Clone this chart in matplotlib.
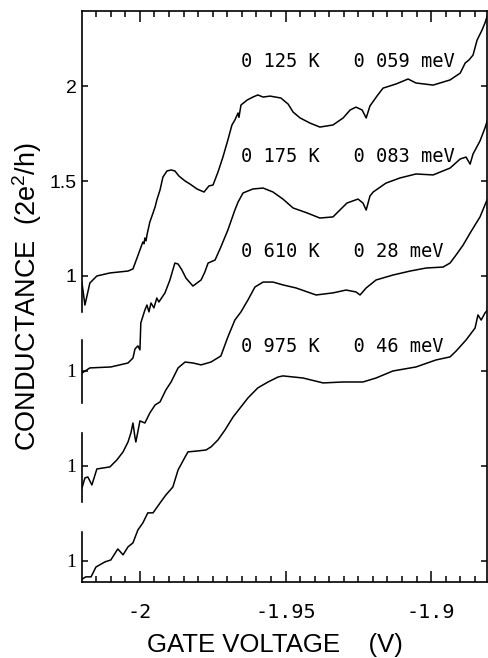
#!/usr/bin/env python3

import matplotlib
matplotlib.use("Agg")
import matplotlib.pyplot as plt
from matplotlib.ticker import MultipleLocator


# gate voltage (V) / conductance (2e^2/h) for each temperature
v_0125 = [-2.0199, -2.0189, -2.0172, -2.0148, -2.0103, -2.0041, -2.0024, -2.0010,
          -1.9990, -1.9986, -1.9983, -1.9979, -1.9976, -1.9966, -1.9955, -1.9948,
          -1.9942, -1.9931, -1.9921, -1.9907, -1.9893, -1.9880, -1.9866, -1.9845,
          -1.9828, -1.9804, -1.9780, -1.9763, -1.9749, -1.9732, -1.9715, -1.9698,
          -1.9684, -1.9674, -1.9663, -1.9660, -1.9653, -1.9632, -1.9612, -1.9595,
          -1.9577, -1.9553, -1.9516, -1.9491, -1.9474, -1.9450, -1.9416, -1.9382,
          -1.9337, -1.9302, -1.9278, -1.9258, -1.9237, -1.9223, -1.9210, -1.9186,
          -1.9165, -1.9120, -1.9079, -1.9052, -1.8993, -1.8935, -1.8900, -1.8883,
          -1.8870, -1.8856, -1.8842, -1.8825, -1.8815, -1.8804]
g_0125 = [0.963, 0.847, 0.963, 1.000, 1.016, 1.026, 1.037, 1.095,
          1.179, 1.170, 1.200, 1.185, 1.215, 1.284, 1.332, 1.363,
          1.400, 1.453, 1.521, 1.553, 1.558, 1.553, 1.526, 1.500,
          1.484, 1.458, 1.442, 1.474, 1.479, 1.547, 1.626, 1.716,
          1.795, 1.821, 1.858, 1.835, 1.900, 1.926, 1.942, 1.953,
          1.942, 1.947, 1.937, 1.905, 1.863, 1.832, 1.805, 1.784,
          1.795, 1.832, 1.874, 1.889, 1.874, 1.832, 1.895, 1.947,
          1.989, 2.011, 2.037, 2.016, 2.005, 2.032, 2.068, 2.121,
          2.137, 2.163, 2.242, 2.295, 2.332, 2.384]

v_0175 = [-2.0199, -2.0172, -2.0100, -2.0041, -2.0024, -2.0017, -2.0007, -2.0000,
          -1.9997, -1.9983, -1.9976, -1.9969, -1.9962, -1.9952, -1.9942, -1.9935,
          -1.9914, -1.9897, -1.9887, -1.9880, -1.9869, -1.9856, -1.9842, -1.9818,
          -1.9790, -1.9777, -1.9766, -1.9742, -1.9722, -1.9698, -1.9674, -1.9663,
          -1.9646, -1.9612, -1.9577, -1.9543, -1.9509, -1.9474, -1.9426, -1.9382,
          -1.9337, -1.9289, -1.9251, -1.9234, -1.9223, -1.9210, -1.9199, -1.9155,
          -1.9107, -1.9052, -1.8993, -1.8935, -1.8900, -1.8880, -1.8866, -1.8856,
          -1.8832, -1.8815, -1.8804]
g_0175 = [0.989, 1.016, 1.021, 1.042, 1.068, 1.116, 1.132, 1.111,
          1.253, 1.321, 1.347, 1.311, 1.358, 1.332, 1.384, 1.363,
          1.411, 1.479, 1.532, 1.568, 1.563, 1.532, 1.489, 1.447,
          1.479, 1.521, 1.568, 1.584, 1.653, 1.742, 1.847, 1.889,
          1.937, 1.958, 1.963, 1.942, 1.905, 1.858, 1.832, 1.805,
          1.811, 1.884, 1.905, 1.884, 1.847, 1.921, 1.942, 1.989,
          2.016, 2.037, 2.032, 2.068, 2.116, 2.126, 2.089, 2.142,
          2.211, 2.279, 2.332]

v_0610 = [-2.0199, -2.0189, -2.0179, -2.0165, -2.0148, -2.0103, -2.0079, -2.0058,
          -2.0041, -2.0031, -2.0024, -2.0017, -2.0014, -2.0000, -1.9983, -1.9966,
          -1.9948, -1.9931, -1.9911, -1.9893, -1.9869, -1.9845, -1.9818, -1.9790,
          -1.9756, -1.9722, -1.9698, -1.9674, -1.9653, -1.9629, -1.9605, -1.9577,
          -1.9543, -1.9509, -1.9464, -1.9395, -1.9337, -1.9292, -1.9258, -1.9244,
          -1.9223, -1.9189, -1.9131, -1.9072, -1.9017, -1.8959, -1.8935, -1.8914,
          -1.8890, -1.8866, -1.8832, -1.8808]
g_0610 = [0.884, 0.937, 0.942, 0.900, 0.984, 0.995, 1.032, 1.074,
          1.126, 1.174, 1.226, 1.150, 1.126, 1.237, 1.226, 1.279,
          1.321, 1.337, 1.400, 1.442, 1.516, 1.547, 1.542, 1.532,
          1.547, 1.579, 1.679, 1.768, 1.811, 1.874, 1.942, 1.968,
          1.968, 1.953, 1.937, 1.900, 1.911, 1.926, 1.916, 1.900,
          1.937, 1.979, 2.005, 2.026, 2.042, 2.047, 2.068, 2.111,
          2.163, 2.226, 2.311, 2.400]

v_0975 = [-2.0203, -2.0186, -2.0168, -2.0151, -2.0120, -2.0100, -2.0076, -2.0058,
          -2.0041, -2.0024, -2.0007, -1.9990, -1.9973, -1.9955, -1.9931, -1.9911,
          -1.9887, -1.9869, -1.9845, -1.9835, -1.9801, -1.9773, -1.9756, -1.9732,
          -1.9708, -1.9680, -1.9653, -1.9629, -1.9595, -1.9560, -1.9526, -1.9509,
          -1.9440, -1.9371, -1.9302, -1.9234, -1.9189, -1.9131, -1.9052, -1.8983,
          -1.8935, -1.8914, -1.8880, -1.8849, -1.8839, -1.8828, -1.8815, -1.8804]
g_0975 = [0.900, 0.916, 0.916, 0.968, 0.995, 1.005, 1.063, 1.032,
          1.074, 1.095, 1.163, 1.200, 1.253, 1.253, 1.305, 1.347,
          1.389, 1.479, 1.547, 1.574, 1.579, 1.584, 1.600, 1.637,
          1.689, 1.758, 1.811, 1.858, 1.911, 1.942, 1.968, 1.974,
          1.963, 1.937, 1.942, 1.942, 1.963, 2.000, 2.021, 2.058,
          2.074, 2.105, 2.163, 2.226, 2.295, 2.268, 2.305, 2.326]

labels = ["0 125 K   0 059 meV",
          "0 175 K   0 083 meV",
          "0 610 K   0 28 meV",
          "0 975 K   0 46 meV"]
offsets = [0.0, 0.5, 1.0, 1.5]

yticks = [2.0, 1.5, 1.0, 0.5, 0.0, -0.5]
ytick_labels = ["2", "1.5", "1", "1", "1", "1"]
xticks = [-2.0, -1.95, -1.9]
xtick_labels = ["-2", "-1.95", "-1.9"]


def main() -> None:
    plt.rcParams["font.family"] = ["Liberation Sans", "DejaVu Sans"]
    plt.rcParams["mathtext.fontset"] = "custom"
    plt.rcParams["mathtext.rm"] = "Liberation Sans"
    plt.rcParams["mathtext.it"] = "Liberation Sans"
    plt.rcParams["axes.unicode_minus"] = False

    fig = plt.figure(figsize=(4.89, 6.58), dpi=100)
    ax = fig.add_axes([82 / 489, 1 - 582 / 658, 405 / 489, 571 / 658])

    curves = [(v_0125, g_0125), (v_0175, g_0175), (v_0610, g_0610), (v_0975, g_0975)]
    for (v, g), off, lab in zip(curves, offsets, labels):
        ax.plot(v, [x - off for x in g], color="black", lw=1.1)
        ax.text(-1.9653, 2.13 - off, lab, family="DejaVu Sans Mono",
                fontsize=13.5, va="center", ha="left")

    ax.set_xlim(-2.0199, -1.8808)
    ax.set_ylim(-0.611, 2.395)

    ax.set_xticks(xticks)
    ax.set_xticklabels(xtick_labels, family="DejaVu Sans Mono", fontsize=14.5)
    ax.xaxis.set_minor_locator(MultipleLocator(0.005))
    ax.set_yticks(yticks)
    ax.set_yticklabels(ytick_labels, fontsize=14)
    for t in ax.get_yticklabels()[3:]:
        t.set_fontfamily("Liberation Serif")

    ax.tick_params(axis="both", which="both", direction="in", top=True, right=True,
                   width=1.1)
    ax.tick_params(axis="x", which="major", length=8, pad=15)
    ax.tick_params(axis="x", which="minor", length=4)
    ax.tick_params(axis="y", which="major", length=4, pad=4)

    for s in ax.spines.values():
        s.set_linewidth(1.2)

    # left axis drawn as one piece per trace
    ax.spines["left"].set_visible(False)
    segs = [(0.81, 2.395), (0.332, 0.663), (-0.189, 0.174), (-0.611, -0.347)]
    for lo, hi in segs:
        ax.plot([0, 0], [lo, hi], color="black", lw=1.2,
                transform=ax.get_yaxis_transform(), clip_on=False)

    ax.set_xlabel("GATE VOLTAGE    (V)", fontsize=18.5)
    ax.xaxis.set_label_coords(0.4765, -0.089)
    ax.set_ylabel(r"CONDUCTANCE  (2e$^2$/h)", fontsize=19.5)
    ax.yaxis.set_label_coords(-0.093, 0.499)

    plt.savefig("out.png", dpi=100)

    return


if __name__ == "__main__":
    main()
